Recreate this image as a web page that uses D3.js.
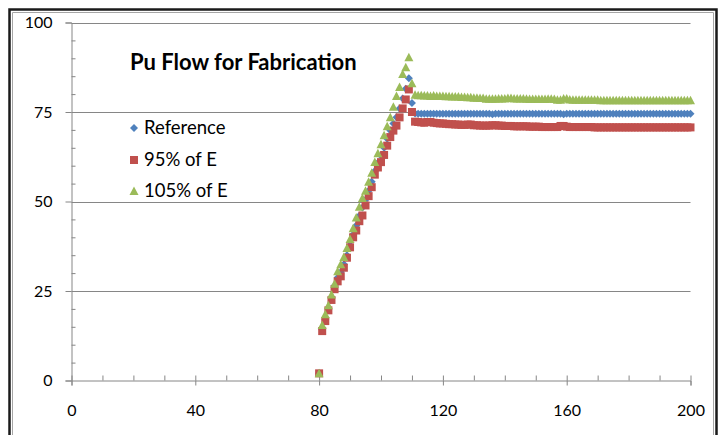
<!DOCTYPE html>
<html>
<head>
<meta charset="utf-8">
<script src="https://cdn.jsdelivr.net/npm/d3@7/dist/d3.min.js"></script>
<style>
  body { margin: 0; background: #fff; }
  #chart_container { width: 721px; height: 435px; }
</style>
</head>
<body>
<div id="chart_container"></div>
<script>
// x runs from 80 to 200, one point per step
const x_start = 80;

// Reference
const reference = [
  2.0,
  14.3, 17.0, 20.0, 23.2, 26.5, 28.8, 30.3, 32.5, 35.0, 37.8,
  40.8, 43.3, 46.0, 48.3, 50.5, 53.0, 55.5, 58.5, 60.8, 62.8,
  65.0, 67.5, 69.8, 71.8, 73.5, 76.0, 78.8, 81.5, 84.4, 77.5,
  74.6, 74.5, 74.5, 74.5, 74.5, 74.5, 74.5, 74.5, 74.5, 74.5,
  74.5, 74.5, 74.5, 74.5, 74.5, 74.5, 74.5, 74.5, 74.5, 74.5,
  74.5, 74.5, 74.5, 74.5, 74.5, 74.4, 74.5, 74.5, 74.5, 74.5,
  74.5, 74.5, 74.5, 74.5, 74.5, 74.5, 74.5, 74.5, 74.5, 74.5,
  74.5, 74.5, 74.5, 74.5, 74.5, 74.5, 74.5, 74.5, 74.4, 74.5,
  74.5, 74.5, 74.5, 74.5, 74.5, 74.5, 74.5, 74.5, 74.5, 74.5,
  74.5, 74.5, 74.5, 74.5, 74.5, 74.5, 74.5, 74.5, 74.5, 74.5,
  74.5, 74.5, 74.5, 74.5, 74.5, 74.5, 74.5, 74.5, 74.5, 74.5,
  74.5, 74.5, 74.5, 74.5, 74.5, 74.5, 74.5, 74.5, 74.5, 74.5
];

// 95% of E
const e95 = [
  2.0,
  13.8, 16.6, 19.6, 22.5, 25.5, 27.7, 29.1, 31.5, 34.3, 37.2,
  40.0, 41.9, 44.5, 46.1, 48.9, 51.5, 54.0, 57.5, 59.5, 61.0,
  63.0, 65.6, 68.0, 69.8, 71.2, 73.5, 76.0, 78.5, 81.3, 75.0,
  72.3, 72.2, 72.1, 72.0, 72.2, 72.2, 72.0, 71.9, 71.8, 71.8,
  71.7, 71.6, 71.6, 71.5, 71.5, 71.4, 71.4, 71.5, 71.5, 71.3,
  71.3, 71.2, 71.2, 71.2, 71.2, 71.3, 71.3, 71.2, 71.2, 71.1,
  71.1, 71.1, 71.0, 71.0, 71.0, 71.0, 71.0, 70.9, 70.9, 70.9,
  70.9, 70.8, 70.8, 70.8, 70.8, 70.8, 70.8, 71.1, 71.1, 70.9,
  70.8, 70.8, 70.8, 70.8, 70.8, 70.8, 70.8, 70.8, 70.7, 70.7,
  70.7, 70.7, 70.7, 70.7, 70.7, 70.7, 70.7, 70.7, 70.7, 70.7,
  70.7, 70.7, 70.7, 70.7, 70.7, 70.7, 70.7, 70.7, 70.7, 70.7,
  70.7, 70.7, 70.7, 70.7, 70.7, 70.7, 70.7, 70.7, 70.7, 70.7
];

// 105% of E
const e105 = [
  2.0,
  15.5, 18.5, 21.0, 24.0, 27.0, 30.5, 32.5, 34.5, 37.0, 39.5,
  42.5, 45.5, 48.5, 51.0, 53.0, 55.5, 58.0, 61.0, 63.5, 66.0,
  68.5, 71.0, 73.5, 76.5, 79.5, 82.0, 85.6, 87.5, 90.3, 83.0,
  79.8, 79.7, 79.7, 79.6, 79.6, 79.5, 79.6, 79.5, 79.5, 79.5,
  79.4, 79.4, 79.3, 79.3, 79.3, 79.2, 79.2, 79.1, 79.1, 79.0,
  79.0, 78.9, 78.9, 78.7, 78.7, 78.7, 78.7, 78.8, 78.8, 78.8,
  78.9, 78.9, 78.8, 78.8, 78.8, 78.8, 78.7, 78.6, 78.6, 78.6,
  78.6, 78.6, 78.6, 78.7, 78.7, 78.6, 78.4, 78.4, 78.8, 78.8,
  78.5, 78.4, 78.4, 78.4, 78.4, 78.4, 78.4, 78.4, 78.4, 78.4,
  78.3, 78.3, 78.3, 78.3, 78.3, 78.3, 78.3, 78.3, 78.3, 78.3,
  78.3, 78.3, 78.3, 78.3, 78.3, 78.3, 78.3, 78.3, 78.3, 78.3,
  78.3, 78.3, 78.3, 78.3, 78.3, 78.3, 78.3, 78.3, 78.3, 78.3
];

const series_names = ["Reference", "95% of E", "105% of E"];
const series_colors = ["#4F81BD", "#C0504D", "#9BBB59"];
const x_ticks = [0, 40, 80, 120, 160, 200];
const y_ticks = [0, 25, 50, 75, 100];
const title_text = "Pu Flow for Fabrication";

const main_container = document.getElementById("chart_container");
const width = 721;
const height = 435;

const svg = d3.select(main_container)
              .append("svg")
              .attr("width", width)
              .attr("height", height);

svg.append("rect")
   .attr("width", width)
   .attr("height", height)
   .attr("fill", "#fff");

// outer frame
const frame = svg.append("g");
frame.append("path")
     .attr("d", "M9.5,440 V9.5 H716.5 V440")
     .attr("fill", "none")
     .attr("stroke", "#1a1a1a")
     .attr("stroke-width", 2.5);
frame.append("path")
     .attr("d", "M12.5,440 V12.5 H713.5 V440")
     .attr("fill", "none")
     .attr("stroke", "#a6a6a6")
     .attr("stroke-width", 1);

const x = d3.scaleLinear().domain([0, 200]).range([71.5, 690.5]);
const y = d3.scaleLinear().domain([0, 100]).range([380.5, 22.5]);

const axis_color = "#868686";
const font = "Lato, 'Open Sans', sans-serif";

// gridlines
svg.append("g")
   .selectAll("line")
   .data(y_ticks.filter(d => d > 0))
   .join("line")
   .attr("x1", x(0))
   .attr("x2", x(200))
   .attr("y1", d => Math.round(y(d)) + 0.5)
   .attr("y2", d => Math.round(y(d)) + 0.5)
   .attr("stroke", axis_color)
   .attr("stroke-width", 1);

// y axis, major ticks to the left
svg.append("g")
   .attr("transform", `translate(${x(0)},0)`)
   .call(d3.axisLeft(y).tickValues(y_ticks).tickSize(6).tickPadding(13));
// minor ticks to the right
svg.append("g")
   .attr("transform", `translate(${x(0)},0)`)
   .call(d3.axisRight(y).tickValues(d3.range(5, 100, 5).filter(d => d % 25 !== 0))
           .tickSize(4).tickFormat(""))
   .call(g => g.select(".domain").remove());

// x axis, major ticks crossing the line
svg.append("g")
   .attr("transform", `translate(0,${y(0)})`)
   .call(d3.axisBottom(x).tickValues(x_ticks).tickSize(5).tickPadding(19));
svg.append("g")
   .attr("transform", `translate(0,${y(0)})`)
   .call(d3.axisTop(x).tickValues(d3.range(0, 201, 10)).tickSize(5).tickFormat(""))
   .call(g => g.select(".domain").remove());

svg.selectAll(".domain, .tick line")
   .attr("stroke", axis_color);
svg.selectAll(".tick text")
   .attr("fill", "#000")
   .attr("font-family", font)
   .attr("font-size", "16px");

// markers
const marker_path = (i) => {
    if (i === 0) return "M0,-4 L4,0 L0,4 L-4,0 Z";
    if (i === 1) return "M-4,-4 H4 V4 H-4 Z";
    return "M0,-4.5 L4.5,4 L-4.5,4 Z";
};

const all_series = [reference, e95, e105];
all_series.forEach((vals, i) => {
    svg.append("g")
       .selectAll("path")
       .data(vals)
       .join("path")
       .attr("transform", (d, j) => `translate(${x(x_start + j)},${y(d)})`)
       .attr("d", marker_path(i))
       .attr("fill", series_colors[i]);
});

// title
svg.append("text")
   .attr("x", 130)
   .attr("y", 70)
   .attr("font-family", font)
   .attr("font-weight", "bold")
   .attr("font-size", "22px")
   .attr("fill", "#000")
   .text(title_text);

// legend
const legend_y = [128, 160, 191];
series_names.forEach((name, i) => {
    const g = svg.append("g");
    g.append("path")
     .attr("transform", `translate(134,${legend_y[i]})`)
     .attr("d", marker_path(i))
     .attr("fill", series_colors[i]);
    g.append("text")
     .attr("x", 144)
     .attr("y", legend_y[i])
     .attr("dy", "0.35em")
     .attr("font-family", font)
     .attr("font-size", "18.5px")
     .attr("fill", "#000")
     .text(name);
});
</script>
</body>
</html>
